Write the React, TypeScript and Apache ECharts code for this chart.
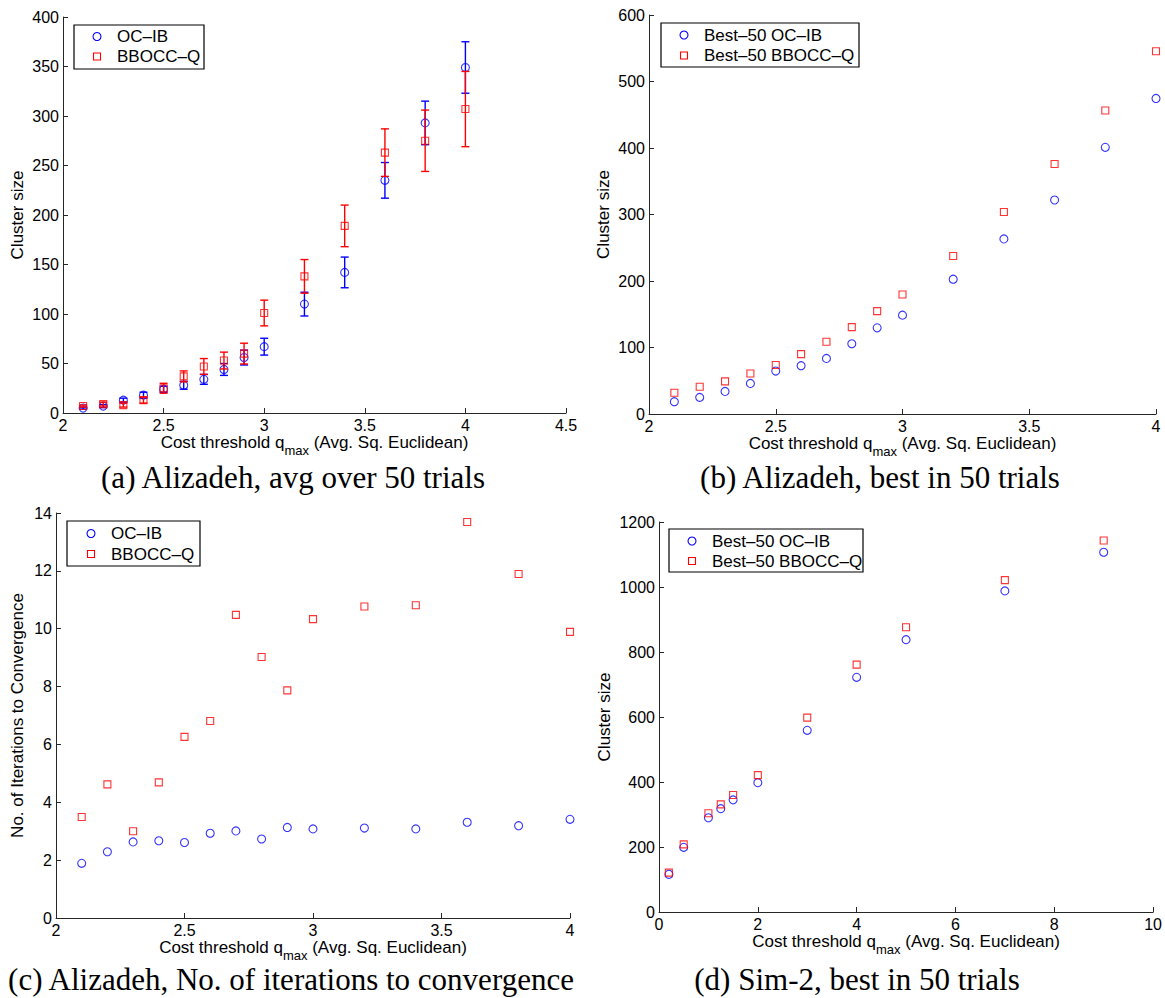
import React, { useEffect, useRef } from "react";
import * as echarts from "echarts";

// ---- data ----
const xAliz = [2.1, 2.2, 2.3, 2.4, 2.5, 2.6, 2.7, 2.8, 2.9, 3.0, 3.2, 3.4, 3.6, 3.8, 4.0];

// (a) average over 50 trials, with error bars (± half-width)
const ocibAvg = [5, 7, 13, 18, 24, 28, 34, 44, 56, 67, 110, 142, 235, 293, 349];
const ocibAvgErr = [1, 1.5, 2, 3, 3, 4, 5, 6, 7.5, 8.5, 12, 15.5, 18, 22, 26];
const bboccAvg = [7, 9, 8, 13, 25, 37, 47, 53, 60, 101, 138, 189, 263, 275, 307];
const bboccAvgErr = [1, 2, 2, 3, 5, 5.5, 8, 8.5, 10.5, 13, 17, 21, 24, 31, 38];

// (b) best in 50 trials
const ocibBest = [18.5, 25, 34, 46, 64.6, 72.6, 83.6, 105.6, 129.6, 148.6, 202.7, 263.3, 321.8, 401, 474.5];
const bboccBest = [32, 41, 49, 61, 73.6, 90, 108.6, 130.6, 154.7, 179.7, 237.7, 303.8, 375.9, 456.5, 545.5];

// (c) number of iterations to convergence
const ocibIter = [1.89, 2.29, 2.63, 2.67, 2.61, 2.93, 3.01, 2.73, 3.13, 3.08, 3.11, 3.08, 3.31, 3.19, 3.41];
const bboccIter = [3.49, 4.62, 3.0, 4.69, 6.26, 6.81, 10.48, 9.02, 7.87, 10.33, 10.77, 10.81, 13.69, 11.89, 9.89];

// (d) Sim-2, best in 50 trials
const xSim = [0.2, 0.5, 1, 1.25, 1.5, 2, 3, 4, 5, 7, 9];
const ocibSim = [116, 199, 290, 318, 345, 398, 559, 722, 838, 988, 1107];
const bboccSim = [121, 208, 304, 331, 360, 421, 598, 761, 876, 1021, 1143];

const captions = [
  "(a) Alizadeh, avg over 50 trials",
  "(b) Alizadeh, best in 50 trials",
  "(c) Alizadeh, No. of iterations to convergence",
  "(d) Sim-2, best in 50 trials",
];
const nameOC = "OC\u2013IB";
const nameBB = "BBOCC\u2013Q";
const nameBestOC = "Best\u201350 OC\u2013IB";
const nameBestBB = "Best\u201350 BBOCC\u2013Q";
const legendNames = [
  [nameOC, nameBB],
  [nameBestOC, nameBestBB],
  [nameOC, nameBB],
  [nameBestOC, nameBestBB],
];
const xTitle = "{n|Cost threshold q}{s|max}{n| (Avg. Sq. Euclidean)}";
const yTitles = ["Cluster size", "Cluster size", "No. of Iterations to Convergence", "Cluster size"];

const BLUE = "#0000ff";
const RED = "#ff0000";
const SANS = '"Liberation Sans", Arial, Helvetica, sans-serif';
const AXIS_COLOR = "#262626";

const pairs = (xs: number[], ys: number[]) => xs.map((x, i) => [x, ys[i]]);
const errData = (xs: number[], ys: number[], es: number[]) =>
  xs.map((x, i) => [x, ys[i] - es[i], ys[i] + es[i]]);

function errorRenderer(color: string) {
  return (params: any, api: any) => {
    const x = api.value(0);
    const lo = api.coord([x, api.value(1)]);
    const hi = api.coord([x, api.value(2)]);
    const w = 4;
    const st = { stroke: color, lineWidth: 1.4 };
    return {
      type: "group",
      children: [
        { type: "line", shape: { x1: lo[0], y1: lo[1], x2: hi[0], y2: hi[1] }, style: st },
        { type: "line", shape: { x1: lo[0] - w, y1: lo[1], x2: lo[0] + w, y2: lo[1] }, style: st },
        { type: "line", shape: { x1: hi[0] - w, y1: hi[1], x2: hi[0] + w, y2: hi[1] }, style: st },
      ],
    };
  };
}

export default function App() {
  const ref = useRef<HTMLDivElement>(null);

  useEffect(() => {
    if (!ref.current) return;
    const chart = echarts.init(ref.current, undefined, { renderer: "svg" });

    const grids = [
      { left: 63, top: 17, width: 503, height: 396 },
      { left: 649, top: 15, width: 507, height: 399 },
      { left: 56, top: 513, width: 514, height: 405 },
      { left: 659, top: 522, width: 495, height: 390 },
    ];
    const xRanges = [
      [2, 4.5, 0.5],
      [2, 4, 0.5],
      [2, 4, 0.5],
      [0, 10, 2],
    ];
    const yRanges = [
      [0, 400, 50],
      [0, 600, 100],
      [0, 14, 2],
      [0, 1200, 200],
    ];
    const xNameGaps = [17, 17, 15, 19];
    const yNameGaps = [37, 37, 30, 46];

    const axisCommon = {
      axisLine: { show: true, lineStyle: { color: AXIS_COLOR, width: 1 } },
      axisTick: { show: true, inside: true, length: 5, lineStyle: { color: AXIS_COLOR, width: 1 } },
      splitLine: { show: false },
    };

    const xAxis = grids.map((_, i) => ({
      type: "value",
      gridIndex: i,
      min: xRanges[i][0],
      max: xRanges[i][1],
      interval: xRanges[i][2],
      ...axisCommon,
      axisLabel: { color: "#000", fontFamily: SANS, fontSize: 16, margin: 4, formatter: (v: number) => String(v) },
      name: xTitle,
      nameLocation: "middle",
      nameGap: xNameGaps[i],
      nameTextStyle: {
        color: "#000",
        rich: {
          n: { fontFamily: SANS, fontSize: 17, lineHeight: 18, color: "#000", verticalAlign: "top" },
          s: { fontFamily: SANS, fontSize: 13, lineHeight: 13, color: "#000", padding: [10, 0, 0, 0], verticalAlign: "top" },
        },
      },
    }));

    const yAxis = grids.map((_, i) => ({
      type: "value",
      gridIndex: i,
      min: yRanges[i][0],
      max: yRanges[i][1],
      interval: yRanges[i][2],
      ...axisCommon,
      axisLabel: { color: "#000", fontFamily: SANS, fontSize: 16, margin: 4, formatter: (v: number) => String(v) },
      name: yTitles[i],
      nameLocation: "middle",
      nameRotate: 90,
      nameGap: yNameGaps[i],
      nameTextStyle: { color: "#000", fontFamily: SANS, fontSize: 17 },
    }));

    const circle = (color: string) => ({
      symbol: "circle",
      symbolSize: 8,
      itemStyle: { color: "none", borderColor: color, borderWidth: 1.1 },
    });
    const square = (color: string) => ({
      symbol: "rect",
      symbolSize: 7,
      itemStyle: { color: "none", borderColor: color, borderWidth: 1.1 },
    });

    const series: any[] = [
      {
        type: "custom",
        name: "OC-IB error bars",
        xAxisIndex: 0,
        yAxisIndex: 0,
        renderItem: errorRenderer(BLUE),
        encode: { x: 0, y: [1, 2] },
        data: errData(xAliz, ocibAvg, ocibAvgErr),
        z: 2,
      },
      { type: "scatter", name: nameOC, xAxisIndex: 0, yAxisIndex: 0, data: pairs(xAliz, ocibAvg), ...circle(BLUE), z: 3 },
      {
        type: "custom",
        name: "BBOCC-Q error bars",
        xAxisIndex: 0,
        yAxisIndex: 0,
        renderItem: errorRenderer(RED),
        encode: { x: 0, y: [1, 2] },
        data: errData(xAliz, bboccAvg, bboccAvgErr),
        z: 4,
      },
      { type: "scatter", name: nameBB, xAxisIndex: 0, yAxisIndex: 0, data: pairs(xAliz, bboccAvg), ...square(RED), z: 5 },

      { type: "scatter", name: nameBestOC, xAxisIndex: 1, yAxisIndex: 1, data: pairs(xAliz, ocibBest), ...circle(BLUE), clip: false },
      { type: "scatter", name: nameBestBB, xAxisIndex: 1, yAxisIndex: 1, data: pairs(xAliz, bboccBest), ...square(RED), clip: false },

      { type: "scatter", name: nameOC, xAxisIndex: 2, yAxisIndex: 2, data: pairs(xAliz, ocibIter), ...circle(BLUE), clip: false },
      { type: "scatter", name: nameBB, xAxisIndex: 2, yAxisIndex: 2, data: pairs(xAliz, bboccIter), ...square(RED), clip: false },

      { type: "scatter", name: nameBestOC, xAxisIndex: 3, yAxisIndex: 3, data: pairs(xSim, ocibSim), ...circle(BLUE), clip: false },
      { type: "scatter", name: nameBestBB, xAxisIndex: 3, yAxisIndex: 3, data: pairs(xSim, bboccSim), ...square(RED), clip: false },
    ];

    // legend boxes (MATLAB style): box, marker column x, text x, two row centres
    const legendBoxes = [
      { x: 74, y: 25, w: 130, h: 44, mx: 97, tx: 117, rows: [36.5, 56.5] },
      { x: 661, y: 23, w: 198, h: 44, mx: 684, tx: 704, rows: [35, 55.5] },
      { x: 67, y: 521, w: 133, h: 45, mx: 91, tx: 111, rows: [533.5, 554] },
      { x: 669, y: 529, w: 194, h: 43, mx: 692, tx: 712, rows: [541, 561] },
    ];
    const legendGraphics: any[] = [];
    legendBoxes.forEach((b, i) => {
      legendGraphics.push({
        type: "rect",
        z: 100,
        shape: { x: b.x, y: b.y, width: b.w, height: b.h },
        style: { fill: "#fff", stroke: "#000", lineWidth: 1.2 },
      });
      legendGraphics.push({
        type: "circle",
        z: 101,
        shape: { cx: b.mx, cy: b.rows[0], r: 4 },
        style: { fill: "none", stroke: BLUE, lineWidth: 1.1 },
      });
      legendGraphics.push({
        type: "rect",
        z: 101,
        shape: { x: b.mx - 3.5, y: b.rows[1] - 3.5, width: 7, height: 7 },
        style: { fill: "none", stroke: RED, lineWidth: 1.1 },
      });
      legendNames[i].forEach((t, k) => {
        legendGraphics.push({
          type: "text",
          z: 101,
          x: b.tx,
          y: b.rows[k],
          style: {
            text: t,
            font: '17px "Liberation Sans", Arial, sans-serif',
            fill: "#000",
            textAlign: "left",
            textVerticalAlign: "middle",
            align: "left",
            verticalAlign: "middle",
          },
        });
      });
    });

    const capPos = [
      [293, 477],
      [880, 477],
      [291, 979],
      [857, 979],
    ];
    const captionGraphics = captions.map((t, i) => ({
      type: "text",
      x: capPos[i][0],
      y: capPos[i][1],
      style: {
        text: t,
        font: '31px "Liberation Serif", "Times New Roman", serif',
        fill: "#000",
        textAlign: "center",
        textVerticalAlign: "middle",
        align: "center",
        verticalAlign: "middle",
      },
    }));

    chart.setOption({
      animation: false,
      backgroundColor: "#fff",
      grid: grids,
      xAxis,
      yAxis,
      series,
      graphic: [...legendGraphics, ...captionGraphics],
    });

    return () => chart.dispose();
  }, []);

  return (
    <div
      ref={ref}
      style={{ position: "absolute", left: 0, top: 0, width: 1165, height: 998, background: "#fff" }}
    />
  );
}
